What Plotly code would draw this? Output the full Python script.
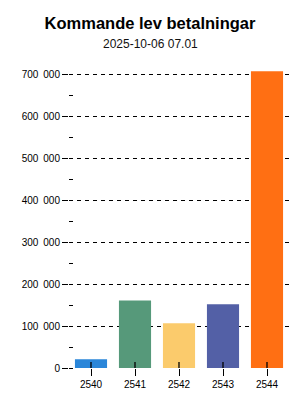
import plotly.graph_objects as go

categories = ["2540", "2541", "2542", "2543", "2544"]
values = [21000, 161000, 107000, 152000, 708000]
colors = ["#2a86d9", "#56997a", "#fbcb6c", "#5360a6", "#ff6f13"]
ytick_vals = [0, 100000, 200000, 300000, 400000, 500000, 600000, 700000]
ytick_text = [f"{v:,}".replace(",", "\u2002") for v in ytick_vals]

title_text = "Kommande lev betalningar"
subtitle_text = "2025-10-06 07.01"

fig = go.Figure(
    go.Bar(
        x=categories,
        y=values,
        marker=dict(color=colors, line=dict(width=0)),
        hoverinfo="x+y",
    )
)

# upper half of each category tick (crossing into the bar), placed by category index
tick_shapes = [
    dict(
        type="line",
        xref="x",
        yref="paper",
        x0=i,
        x1=i,
        y0=0,
        y1=6 / 298,
        line=dict(color="black", width=1.3),
        layer="above",
    )
    for i, _ in enumerate(categories)
]

fig.update_layout(
    width=300,
    height=400,
    margin=dict(l=69, r=11, t=70, b=32),
    paper_bgcolor="white",
    plot_bgcolor="white",
    bargap=0.27,
    showlegend=False,
    font=dict(family="Liberation Sans, Arial, sans-serif", color="black"),
    shapes=tick_shapes,
    title=dict(
        text="<b>" + title_text + "</b>",
        x=0.5,
        xanchor="center",
        xref="container",
        y=1 - 23 / 400,
        yanchor="middle",
        yref="container",
        font=dict(size=16.5, color="black"),
    ),
    annotations=[
        dict(
            text=subtitle_text,
            x=(150 - 69) / 220,
            xref="paper",
            xanchor="center",
            y=1 + (70 - 43.5) / 298,
            yref="paper",
            yanchor="middle",
            showarrow=False,
            font=dict(size=12, color="#111"),
        )
    ],
)

fig.update_xaxes(
    type="category",
    range=[-0.5, len(categories) - 0.5],
    layer="above traces",
    showline=False,
    showgrid=False,
    zeroline=False,
    ticks="outside",
    ticklen=7,
    tickwidth=1.3,
    tickcolor="black",
    tickfont=dict(size=10, color="black"),
)

fig.update_yaxes(
    range=[0, 711000],
    domain=[0, 1],
    showline=False,
    showgrid=True,
    gridcolor="black",
    gridwidth=1,
    griddash="4px,4px",
    zeroline=True,
    zerolinecolor="white",
    zerolinewidth=1,
    tickvals=ytick_vals,
    ticktext=ytick_text,
    ticks="outside",
    ticklen=6,
    tickwidth=1,
    tickcolor="black",
    tickfont=dict(size=10, color="black"),
    minor=dict(ticks="inside", ticklen=4, tickwidth=1, tickcolor="black", dtick=50000, showgrid=False),
)

fig.write_html("out.html")
